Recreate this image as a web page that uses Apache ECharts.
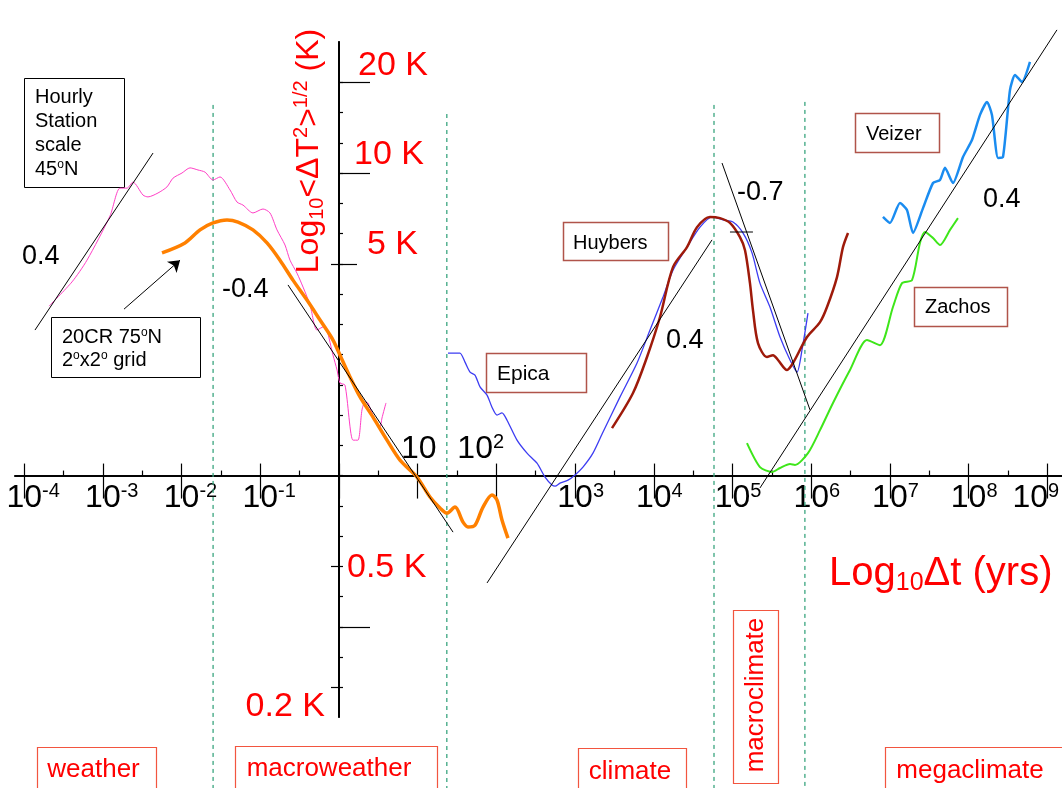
<!DOCTYPE html>
<html><head><meta charset="utf-8">
<script src="https://cdn.jsdelivr.net/npm/echarts@6/dist/echarts.min.js"></script>
<style>html,body{margin:0;padding:0;background:#fff}#c{width:1062px;height:788px}</style>
</head><body><div id="c"></div>
<script>
const FF = '"Liberation Sans", Arial, sans-serif';

// ---- axis ticks and labels (log10 units) ----
const xMajorTicks = [-4,-3,-2,-1,0,1,2,3,4,5,6,7,8,9];
const xHalfTicks = [-3.5,-2.5,-1.5,-0.5,0.5,1.5,2.5,3.5,4.5,5.5,6.5,7.5,8.5];
const xLabelsBelow = [-4,-3,-2,-1,3,4,5,6,7,8,9];
const xLabelsAbove = [1,2];
const yMinorTicks = [-0.8,-0.7,-0.6,-0.5,-0.4,-0.3,-0.2,-0.1,0,0.1,0.2,0.3,0.4,0.5,0.6,0.7,0.8,0.9,1.0,1.1,1.2,1.3];
const yLongTicks = [1.3,1.0,-0.5];
const yMidTicks = [0.7];
const yLeftTicks = [0.7,-0.3,-0.7];
const yLabelValues = [1.301,1.0,0.699,-0.301,-0.699];
const yLabelTexts = ['20 K','10 K','5 K','0.5 K','0.2 K'];

// ---- series: [log10 Δt (yrs), log10 ΔT (K)] ----
const hourlyStation = [[-3.685,0.560],[-3.393,0.640],[-3.202,0.712],[-2.910,0.858],[-2.783,0.950],[-2.694,0.950],[-2.618,0.970],[-2.490,0.927],[-2.427,0.921],[-2.300,0.934],[-2.186,0.954],[-2.109,0.983],[-1.995,1.000],[-1.893,1.017],[-1.792,1.010],[-1.703,1.003],[-1.601,0.977],[-1.512,0.987],[-1.385,0.944],[-1.296,0.904],[-1.220,0.894],[-1.093,0.868],[-0.966,0.881],[-0.877,0.868],[-0.788,0.812],[-0.686,0.762],[-0.623,0.712],[-0.534,0.669],[-0.457,0.623],[-0.368,0.564],[-0.280,0.481],[-0.178,0.494],[-0.152,0.481],[-0.076,0.398],[-0.025,0.349],[0.013,0.306],[0.076,0.299],[0.178,0.117],[0.241,0.117],[0.292,0.217],[0.330,0.243],[0.368,0.240],[0.419,0.207],[0.521,0.160],[0.546,0.190],[0.597,0.240]];
const cr20 = [[-2.249,0.736],[-1.957,0.769],[-1.766,0.812],[-1.601,0.835],[-1.423,0.845],[-1.283,0.838],[-1.093,0.812],[-0.915,0.769],[-0.750,0.712],[-0.585,0.646],[-0.407,0.580],[-0.241,0.514],[-0.076,0.448],[0.013,0.398],[0.140,0.326],[0.267,0.260],[0.432,0.193],[0.610,0.117],[0.775,0.051],[0.991,-0.005],[1.156,-0.071],[1.283,-0.107],[1.372,-0.124],[1.474,-0.104],[1.576,-0.154],[1.639,-0.170],[1.728,-0.164],[1.830,-0.104],[1.944,-0.064],[2.008,-0.081],[2.071,-0.147],[2.147,-0.207]];
const epica = [[1.385,0.405],[1.474,0.405],[1.537,0.405],[1.601,0.375],[1.665,0.342],[1.728,0.332],[1.792,0.293],[1.881,0.266],[1.944,0.226],[2.008,0.200],[2.071,0.207],[2.135,0.183],[2.262,0.117],[2.389,0.074],[2.516,0.041],[2.618,-0.005],[2.706,-0.031],[2.745,-0.035],[2.808,-0.025],[2.910,-0.015],[2.999,0.002],[3.100,0.028],[3.227,0.074],[3.355,0.144],[3.571,0.260],[3.787,0.372],[3.952,0.481],[4.117,0.590],[4.244,0.679],[4.422,0.755],[4.587,0.821],[4.740,0.855],[4.879,0.845],[5.006,0.838],[5.133,0.802],[5.248,0.736],[5.349,0.636],[5.476,0.557],[5.604,0.458],[5.731,0.382],[5.820,0.342],[5.883,0.415],[5.959,0.537]];
const huybers = [[3.469,0.157],[3.736,0.273],[3.914,0.392],[4.079,0.524],[4.244,0.689],[4.422,0.755],[4.549,0.821],[4.714,0.855],[4.841,0.851],[4.968,0.835],[5.095,0.788],[5.159,0.745],[5.222,0.636],[5.260,0.547],[5.324,0.438],[5.438,0.392],[5.515,0.398],[5.578,0.382],[5.693,0.349],[5.769,0.372],[5.947,0.458],[6.112,0.507],[6.201,0.557],[6.328,0.656],[6.404,0.755],[6.468,0.802]];
const zachos = [[5.184,0.107],[5.349,0.028],[5.502,0.012],[5.604,0.025],[5.731,0.038],[5.794,0.035],[5.959,0.074],[6.112,0.150],[6.277,0.240],[6.493,0.349],[6.709,0.448],[6.874,0.431],[7.039,0.557],[7.154,0.636],[7.281,0.646],[7.382,0.769],[7.446,0.805],[7.548,0.785],[7.637,0.762],[7.764,0.812],[7.865,0.851]];
const veizer = [[6.912,0.855],[7.001,0.835],[7.128,0.901],[7.217,0.878],[7.294,0.802],[7.421,0.884],[7.548,0.967],[7.637,0.977],[7.700,1.017],[7.802,0.967],[7.929,1.053],[8.043,1.109],[8.145,1.192],[8.234,1.235],[8.297,1.192],[8.374,1.050],[8.437,1.053],[8.526,1.274],[8.590,1.324],[8.678,1.301],[8.780,1.367]];
const fitHourly = [[-3.863,0.481],[-2.363,1.066]];
const fitMacroweather = [[-0.648,0.630],[1.449,-0.187]];
const fitClimate = [[1.881,-0.355],[4.740,0.779]];
const fitMacroclimate = [[4.867,1.033],[5.985,0.217]];
const fitMegaclimate = [[5.349,-0.041],[9.123,1.473]];
const refMark = [[4.968,0.805],[5.260,0.805]];
const arrow20CR = [[-2.732,0.550],[-2.020,0.712]];
const regimeBounds = [-1.60,1.37,4.765,5.92];
const boundTops = [1.225,1.195,1.225,1.235];
const boundBottom = -1.04;

const X0 = -4.117, X1 = 9.187, Y0 = -0.798, Y1 = 1.433;

const chart = echarts.init(document.getElementById('c'));

function xAx(tick){
  return {type:'value', min:X0, max:X1, position:'bottom', splitLine:{show:false},
    axisLine:{show:true, onZero:true, onZeroAxisIndex:0, lineStyle:{color:'#000', width:1.5}},
    axisTick: tick, axisLabel:{show:false}};
}
function yAx(tick){
  return {type:'value', min:Y0, max:Y1, position:'left', splitLine:{show:false},
    axisLine:{show:true, onZero:true, onZeroAxisIndex:0, lineStyle:{color:'#000', width:1.5}},
    axisTick: tick, axisLabel:{show:false}};
}
const tickStyle = {color:'#000', width:1.2};

function lineSeries(data, color, width, smooth, extra){
  return Object.assign({type:'line', data, xAxisIndex:0, yAxisIndex:0, showSymbol:false, symbol:'none',
    smooth: smooth, clip:false, silent:true, z:3,
    lineStyle:{color, width}, itemStyle:{color}}, extra||{});
}

const series = [];
regimeBounds.forEach((b,i)=>{
  series.push(lineSeries([[b,boundTops[i]],[b,boundBottom]], '#3aa57f', 1.3, false, {lineStyle:{color:'#3aa57f', width:1.3, type:[4,4]}, z:1}));
});
series.push(lineSeries(hourlyStation, '#ff3fc6', 1, 0.25));
series.push(lineSeries(epica, '#3c3cf2', 1.3, 0.25));
series.push(lineSeries(huybers, '#9e1a0a', 2.5, 0.3));
series.push(lineSeries(zachos, '#3ee61a', 2, 0.25));
series.push(lineSeries(veizer, '#1a8cf0', 2.5, 0.2));
series.push(lineSeries(cr20, '#ff8000', 3.5, 0.3));
[fitHourly, fitMacroweather, fitClimate, fitMacroclimate, fitMegaclimate, refMark].forEach(d=>{
  series.push(lineSeries(d, '#000', 1, false, {z:4}));
});
series.push({type:'lines', coordinateSystem:'cartesian2d', xAxisIndex:0, yAxisIndex:0, silent:true, z:5,
  symbol:['none','arrow'], symbolSize:[1,11], lineStyle:{color:'#000', width:1, opacity:1, curveness:0},
  data:[{coords: arrow20CR}]});

const option = {
  animation:false,
  backgroundColor:'#fff',
  textStyle:{fontFamily:FF},
  grid:{left:15, right:0, top:42, bottom:71, containLabel:false, outerBoundsMode:'none'},
  xAxis:[
    xAx({show:true, customValues:xMajorTicks, length:23, inside:false, lineStyle:tickStyle}),
    xAx({show:true, customValues:xMajorTicks, length:12, inside:true, lineStyle:tickStyle}),
    xAx({show:true, customValues:xHalfTicks, length:5, inside:true, lineStyle:tickStyle})
  ],
  yAxis:[
    yAx({show:true, customValues:yMinorTicks, length:4, inside:true, lineStyle:tickStyle}),
    yAx({show:true, customValues:yLongTicks, length:31, inside:true, lineStyle:tickStyle}),
    yAx({show:true, customValues:yMidTicks, length:18, inside:true, lineStyle:tickStyle}),
    yAx({show:true, customValues:yLeftTicks, length:8, inside:false, lineStyle:tickStyle})
  ],
  series
};
chart.setOption(option);

// ---- text: tick labels placed through the axis scales ----
const RED = '#ff0000';
const g = [];
const supRich = {
  b:{fontSize:32, lineHeight:34, fontFamily:FF, fill:'#000'},
  s:{fontSize:20, lineHeight:20, verticalAlign:'top', fontFamily:FF, fill:'#000'},
  p:{fontSize:20, lineHeight:20, verticalAlign:'top', fontFamily:FF, fill:'rgba(0,0,0,0)'}
};
const xLabelNudge = {9:-17};
xLabelsBelow.forEach(v=>{
  const p = chart.convertToPixel({gridIndex:0}, [v, 0]);
  g.push({type:'text', x:p[0]+(xLabelNudge[v]||0), y:p[1]+23, silent:true, style:{
    text:'{p|'+v+'}{b|10}{s|'+v+'}', rich:supRich, align:'center', verticalAlign:'middle'}});
});
xLabelsAbove.forEach(v=>{
  const p = chart.convertToPixel({gridIndex:0}, [v, 0]);
  const t = v === 1 ? '{b|10}' : '{b|10}{s|'+v+'}{p|222}';
  g.push({type:'text', x:p[0]+1, y:p[1]-26, silent:true, style:{
    text:t, rich:supRich, align:'center', verticalAlign:'middle'}});
});
const yLabelLayout = [
  {dx:19, dy:-16, align:'left'}, {dx:15, dy:-18, align:'left'}, {dx:28, dy:-19, align:'left'},
  {dx:8, dy:1, align:'left'}, {dx:-14, dy:20, align:'right'}
];
yLabelValues.forEach((v,i)=>{
  const p = chart.convertToPixel({gridIndex:0}, [0, v]);
  const L = yLabelLayout[i];
  g.push({type:'text', x:p[0]+L.dx, y:p[1]+L.dy, silent:true,
    style:{text:yLabelTexts[i], fill:RED, fontSize:34, fontFamily:FF, align:L.align, verticalAlign:'middle'}});
});

function box(x,y,w,h,stroke,lw){
  return {type:'rect', shape:{x,y,width:w,height:h}, silent:true, style:{fill:'none', stroke, lineWidth:lw||1}};
}
function txt(x,y,text,size,color,align,extra){
  return Object.assign({type:'text', x, y, silent:true,
    style:{text, fill:color||'#000', fontSize:size, fontFamily:FF, align:align||'left', verticalAlign:'middle'}}, extra||{});
}
const degRich = {
  n:{fontSize:20, lineHeight:24, fontFamily:FF, fill:'#000'},
  o:{fontSize:12, lineHeight:24, fontFamily:FF, fill:'#000', verticalAlign:'top', padding:[2,0,0,0]}
};
// Hourly station box
g.push(box(24.5,78.5,100,109,'#000',1));
g.push({type:'text', x:35, y:85, silent:true, style:{
  text:'{n|Hourly}\n{n|Station}\n{n|scale}\n{n|45}{o|o}{n|N}', rich:degRich, align:'left', verticalAlign:'top', fontFamily:FF}});
// 20CR box
g.push(box(51.5,317.5,149,60,'#000',1));
g.push({type:'text', x:62, y:326, silent:true, style:{
  text:'{n|20CR 75}{o|o}{n|N}\n{n|2}{o|o}{n|x2}{o|o}{n| grid}', rich:{
    n:{fontSize:20, lineHeight:23, fontFamily:FF, fill:'#000'},
    o:{fontSize:12, lineHeight:23, fontFamily:FF, fill:'#000', verticalAlign:'top', padding:[1,0,0,0]}},
  align:'left', verticalAlign:'top'}});
// slope labels
g.push(txt(22,257,'0.4',27));
g.push(txt(222,290,'-0.4',27));
g.push(txt(666,341,'0.4',27));
g.push(txt(737,193,'-0.7',27));
g.push(txt(983,200,'0.4',27));
// dataset boxes
const BR = '#b0544a';
g.push(box(486.5,353.5,100,39,BR,1.5)); g.push(txt(497,374,'Epica',21));
g.push(box(563.5,222.5,105,38,BR,1.5)); g.push(txt(573,243,'Huybers',20));
g.push(box(855.5,113.5,84,39,BR,1.5)); g.push(txt(866,134,'Veizer',20));
g.push(box(914.5,287.5,93,39,BR,1.5)); g.push(txt(925,307,'Zachos',20));
// axis titles
g.push({type:'text', x:309, y:151, rotation:Math.PI/2, silent:true, style:{
  text:'{a|Log}{b|10}{a|<ΔT}{c|2}{a|>}{c|1/2}{a| (K)}',
  rich:{a:{fontSize:32, lineHeight:36, fontFamily:FF, fill:RED},
        b:{fontSize:20, lineHeight:20, verticalAlign:'bottom', fontFamily:FF, fill:RED},
        c:{fontSize:20, lineHeight:20, verticalAlign:'top', fontFamily:FF, fill:RED}},
  align:'center', verticalAlign:'middle'}});
g.push({type:'text', x:829, y:574, silent:true, style:{
  text:'{a|Log}{b|10}{a|Δt (yrs)}',
  rich:{a:{fontSize:40, lineHeight:44, fontFamily:FF, fill:RED},
        b:{fontSize:25, lineHeight:25, verticalAlign:'bottom', fontFamily:FF, fill:RED}},
  align:'left', verticalAlign:'middle'}});
// regime labels
const RB = '#f2553f';
g.push(box(37.5,747.5,119,60,RB,1.2)); g.push(txt(93.5,770,'weather',26,RED,'center'));
g.push(box(235.5,746.5,202,60,RB,1.2)); g.push(txt(329,769,'macroweather',26,RED,'center'));
g.push(box(578.5,748.5,108,60,RB,1.2)); g.push(txt(630,772,'climate',26,RED,'center'));
g.push(box(733.5,610.5,45,173,RB,1.2));
g.push(txt(756,695,'macroclimate',26,RED,'center',{rotation:Math.PI/2}));
g.push(box(885.5,747.5,190,60,RB,1.2)); g.push(txt(970,771,'megaclimate',26,RED,'center'));

chart.setOption({graphic:g});
</script>
</body></html>
